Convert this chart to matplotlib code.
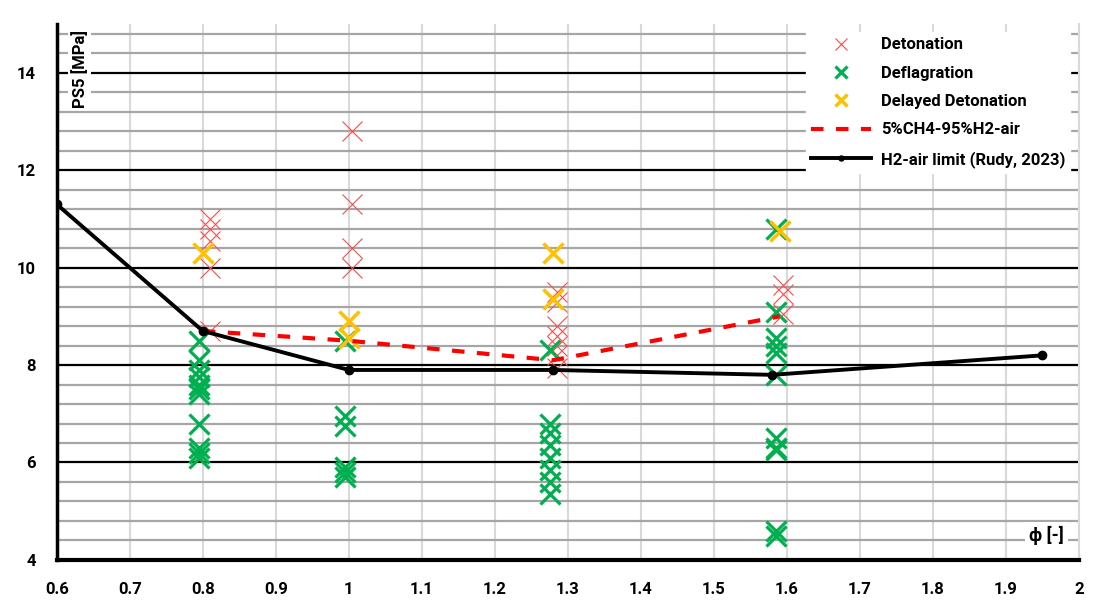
import matplotlib
matplotlib.use('Agg')
import matplotlib.pyplot as plt
from matplotlib.ticker import MultipleLocator

# phi [-] and PS5 [MPa]
det_x = [0.81]*5 + [1.005]*4 + [1.285]*7 + [1.595]*3
det_y = [11.0, 10.8, 10.55, 10.0, 8.7,
         12.8, 11.3, 10.4, 10.0,
         9.5, 9.3, 8.8, 8.6, 8.4, 8.2, 7.95,
         9.65, 9.45, 9.05]

defl_x = [0.795]*11 + [0.995]*6 + [1.275]*8 + [1.585]*11
defl_y = [8.5, 8.1, 7.9, 7.75, 7.6, 7.5, 7.4, 6.8, 6.3, 6.2, 6.1,
          8.5, 6.95, 6.75, 5.9, 5.8, 5.7,
          8.3, 6.8, 6.6, 6.35, 6.1, 5.85, 5.6, 5.35,
          10.8, 9.1, 8.55, 8.4, 8.25, 7.8, 6.5, 6.3, 6.25, 4.6, 4.5]

delayed_x = [0.8, 1.0, 1.0, 1.28, 1.28, 1.59]
delayed_y = [10.3, 8.9, 8.55, 10.3, 9.35, 10.75]

mix_x = [0.8, 1.0, 1.28, 1.59]
mix_y = [8.7, 8.5, 8.1, 9.0]

rudy_x = [0.6, 0.8, 1.0, 1.28, 1.58, 1.95]
rudy_y = [11.3, 8.7, 7.9, 7.9, 7.8, 8.2]

x_ticks = [0.6, 0.7, 0.8, 0.9, 1.0, 1.1, 1.2, 1.3, 1.4, 1.5, 1.6, 1.7, 1.8, 1.9, 2.0]
x_labels = ['0.6', '0.7', '0.8', '0.9', '1', '1.1', '1.2', '1.3', '1.4', '1.5',
            '1.6', '1.7', '1.8', '1.9', '2']
y_ticks = [4, 6, 8, 10, 12, 14]

plt.rcParams['font.family'] = ['Roboto', 'DejaVu Sans']
plt.rcParams['font.weight'] = 'bold'

fig = plt.figure(figsize=(10.93, 6.04), dpi=100)
ax = fig.add_axes([0.052, 0.073, 0.935, 0.887])

ax.set_xlim(0.6, 2.0)
ax.set_ylim(4, 15)

# grid: light vertical every 0.1, grey horizontal every 0.4, black every 2
ax.xaxis.set_major_locator(MultipleLocator(0.1))
ax.yaxis.set_major_locator(MultipleLocator(2))
ax.yaxis.set_minor_locator(MultipleLocator(0.4))
ax.grid(axis='x', which='major', color='#d9d9d9', lw=1.5)
ax.grid(axis='y', which='minor', color='#a6a6a6', lw=1.6)
ax.grid(axis='y', which='major', color='black', lw=1.6)
ax.set_axisbelow(True)

ax.set_xticks(x_ticks)
ax.set_xticklabels(x_labels)
ax.set_yticks(y_ticks)
ax.tick_params(axis='both', which='both', length=0, labelsize=12)
ax.tick_params(axis='x', pad=16)
ax.tick_params(axis='y', pad=15)

ax.spines['top'].set_visible(False)
ax.spines['right'].set_color('#d9d9d9')
ax.spines['right'].set_linewidth(1.5)
ax.spines['left'].set_linewidth(2.5)
ax.spines['bottom'].set_linewidth(3)

ax.plot(det_x, det_y, ls='none', marker='x', ms=14, mew=0.8, color='#ff4b4b',
        label='Detonation', zorder=3)
ax.plot(defl_x, defl_y, ls='none', marker='x', ms=14, mew=2.3, color='#00b050',
        label='Deflagration', zorder=3)
ax.plot(delayed_x, delayed_y, ls='none', marker='x', ms=14, mew=2.5, color='#ffc000',
        label='Delayed Detonation', zorder=4)
ax.plot(mix_x, mix_y, ls=(0, (3, 3)), lw=3, color='#ff0000',
        label='5%CH4-95%H2-air', zorder=5)
ax.plot(rudy_x, rudy_y, '-o', lw=2.8, ms=6, color='black',
        label='H2-air limit (Rudy, 2023)', zorder=5)

leg = ax.legend(loc='upper right', bbox_to_anchor=(1.0, 1.0), fontsize=12,
                markerscale=0.6, handlelength=3.6, labelspacing=0.8,
                frameon=True, fancybox=False, edgecolor='white',
                facecolor='white', framealpha=1, borderpad=0.3, handletextpad=0.6)
leg.set_zorder(10)

ax.text(0.014, 0.99, 'PS5 [MPa]', transform=ax.transAxes, rotation=90,
        ha='left', va='top', fontsize=12,
        bbox=dict(facecolor='white', edgecolor='none', pad=2), zorder=6)
ax.text(0.985, 0.045, '\u03d5 [-]', transform=ax.transAxes,
        ha='right', va='center', fontsize=13,
        bbox=dict(facecolor='white', edgecolor='none', pad=3), zorder=6)

fig.savefig('out.png', dpi=100)
